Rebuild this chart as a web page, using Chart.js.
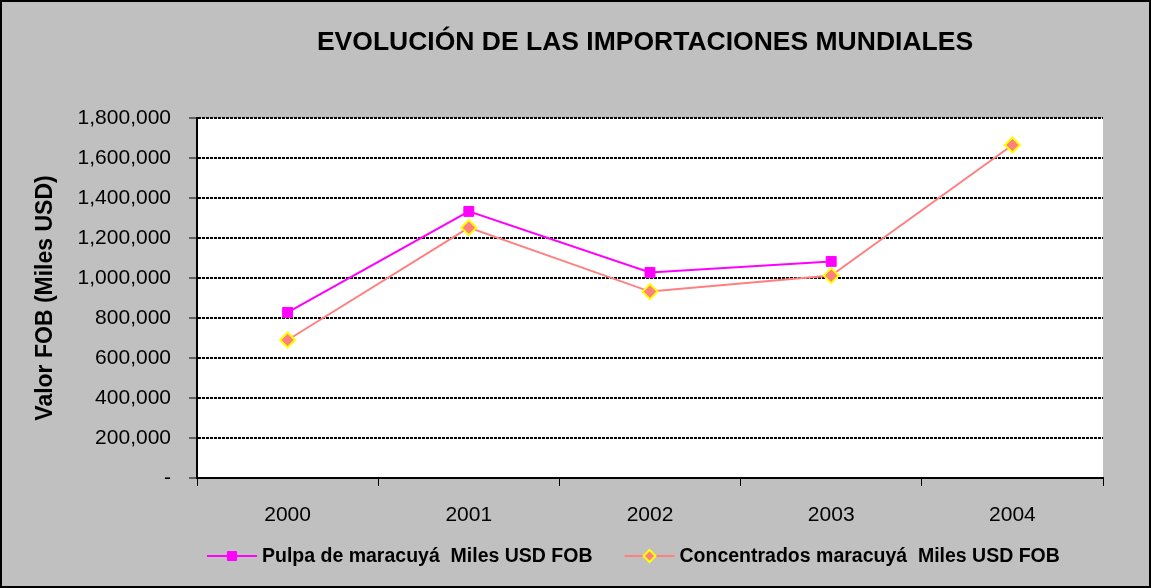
<!DOCTYPE html>
<html lang="es">
<head>
    <meta charset="UTF-8">
    <title>Evolución de las importaciones mundiales</title>
    <script src="https://cdn.jsdelivr.net/npm/chart.js"></script>
    <style>
        body {
            margin: 0;
            background: #C0C0C0;
        }
        .chart-container {
            width: 1151px;
            height: 588px;
        }
    </style>
</head>
<body>
    <div class="chart-container">
        <canvas id="importChart" width="1151" height="588"></canvas>
    </div>

    <script>
        // data
        const years = ['2000', '2001', '2002', '2003', '2004'];
        const pulpa = [828000, 1333000, 1028000, 1083000, null];
        const concentrados = [690000, 1252000, 932000, 1012000, 1665000];
        const seriesLabels = ['Pulpa de maracuyá  Miles USD FOB', 'Concentrados maracuyá  Miles USD FOB'];
        const yMin = 0, yMax = 1800000, yStep = 200000;

        const FONT = '"Liberation Sans", Arial, sans-serif';
        const titleText = 'EVOLUCIÓN DE LAS IMPORTACIONES MUNDIALES';

        // grey frame, white plot area, title and legend
        const framePlugin = {
            id: 'frame',
            beforeDraw(chart) {
                const {ctx, chartArea} = chart;
                ctx.save();
                ctx.fillStyle = '#C0C0C0';
                ctx.fillRect(0, 0, chart.width, chart.height);
                ctx.fillStyle = '#FFFFFF';
                ctx.fillRect(chartArea.left, chartArea.top, chartArea.right - chartArea.left, chartArea.bottom - chartArea.top);
                ctx.restore();
            },
            afterDraw(chart) {
                const {ctx} = chart;
                ctx.save();
                ctx.strokeStyle = '#000';
                ctx.lineWidth = 2;
                ctx.strokeRect(1, 1, chart.width - 2, chart.height - 2);

                // title
                ctx.fillStyle = '#000';
                ctx.font = 'bold 26.5px ' + FONT;
                ctx.textAlign = 'center';
                ctx.textBaseline = 'middle';
                ctx.fillText(titleText, 645, 43);

                // legend: line + marker + label
                ctx.font = 'bold 19.5px ' + FONT;
                ctx.textAlign = 'left';
                let x = 207;
                const y = 556;
                chart.data.datasets.forEach(ds => {
                    ctx.strokeStyle = ds.borderColor;
                    ctx.lineWidth = 2;
                    ctx.beginPath();
                    ctx.moveTo(x, y);
                    ctx.lineTo(x + 50, y);
                    ctx.stroke();
                    const cx = x + 25;
                    ctx.fillStyle = ds.pointBackgroundColor;
                    ctx.strokeStyle = ds.pointBorderColor;
                    ctx.lineWidth = ds.pointBorderWidth;
                    ctx.beginPath();
                    if (ds.pointStyle === 'rect') {
                        ctx.rect(cx - 4.5, y - 4.5, 9, 9);
                    } else {
                        ctx.moveTo(cx, y - 6);
                        ctx.lineTo(cx + 6, y);
                        ctx.lineTo(cx, y + 6);
                        ctx.lineTo(cx - 6, y);
                        ctx.closePath();
                    }
                    ctx.fill();
                    ctx.stroke();
                    ctx.fillStyle = '#000';
                    ctx.fillText(ds.label, x + 55, y + 1);
                    x += 55 + ctx.measureText(ds.label).width + 32;
                });
                ctx.restore();
            }
        };

        const ctx = document.getElementById('importChart').getContext('2d');
        const chart = new Chart(ctx, {
            type: 'line',
            data: {
                labels: years,
                datasets: [{
                    label: seriesLabels[0],
                    data: pulpa,
                    borderColor: '#FF00FF',
                    borderWidth: 2,
                    pointStyle: 'rect',
                    pointRadius: 7,
                    pointBackgroundColor: '#FF00FF',
                    pointBorderColor: '#FF00FF',
                    pointBorderWidth: 1,
                    tension: 0,
                    order: 1,
                }, {
                    label: seriesLabels[1],
                    data: concentrados,
                    borderColor: '#FF8080',
                    borderWidth: 2,
                    pointStyle: 'rectRot',
                    pointRadius: 7.5,
                    pointBackgroundColor: '#FF8080',
                    pointBorderColor: '#FFFF00',
                    pointBorderWidth: 2,
                    tension: 0,
                    order: 0,
                }]
            },
            options: {
                responsive: false,
                animation: false,
                devicePixelRatio: 1,
                layout: {
                    padding: {left: 0, top: 118, right: 48, bottom: 0}
                },
                scales: {
                    x: {
                        offset: true,
                        grid: {
                            offset: true,
                            drawOnChartArea: false,
                            drawTicks: true,
                            tickLength: 8,
                            color: '#000',
                            lineWidth: 1,
                        },
                        border: {color: '#000', width: 2},
                        ticks: {
                            color: '#000',
                            padding: 17,
                            font: {family: FONT, size: 21},
                        },
                        afterFit(scale) { scale.height = 110; }
                    },
                    y: {
                        min: yMin,
                        max: yMax,
                        grid: {
                            color: '#000',
                            lineWidth: 2,
                            tickLength: 8,
                            tickWidth: 1,
                        },
                        border: {color: '#000', width: 2, dash: [3, 1]},
                        ticks: {
                            stepSize: yStep,
                            color: '#000',
                            padding: 18,
                            font: {family: FONT, size: 21},
                            callback: v => v === 0 ? '-' : v.toLocaleString('en-US')
                        },
                        title: {
                            display: true,
                            text: 'Valor FOB (Miles USD)',
                            color: '#000',
                            font: {family: FONT, size: 23, weight: 'bold'},
                            padding: {top: 32, bottom: 0}
                        },
                        afterFit(scale) { scale.width = 197; }
                    }
                },
                plugins: {
                    legend: {display: false},
                    tooltip: {enabled: false},
                }
            },
            plugins: [framePlugin]
        });
    </script>
</body>
</html>
